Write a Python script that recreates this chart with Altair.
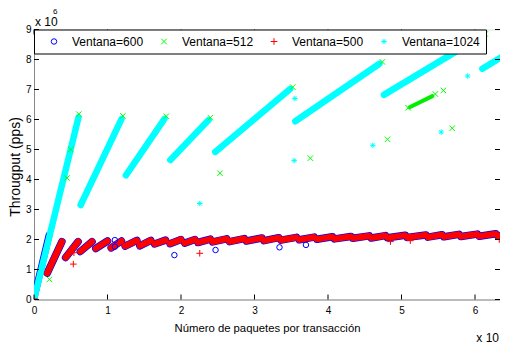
import altair as alt
import pandas as pd

FONT = "Liberation Sans Narrow, Arial Narrow, Liberation Sans, Arial, sans-serif"
FONT_REG = "Liberation Sans, Arial, sans-serif"

series_names = ["Ventana=600", "Ventana=512", "Ventana=500", "Ventana=1024"]
series_colors = ["#0000ff", "#00ff00", "#ff0000", "#00ffff"]
series_shapes = [
    "circle",
    "M-1,-1L1,1M-1,1L1,-1",
    "M-1.2,0L1.2,0M0,-1.2L0,1.2",
    "M-1,0L1,0M0,-1L0,1M-0.7,-0.7L0.7,0.7M-0.7,0.7L0.7,-0.7",
]

x_ticks = [0, 1, 2, 3, 4, 5, 6]
y_ticks = [0, 1, 2, 3, 4, 5, 6, 7, 8, 9]

# Sawtooth teeth shared by Ventana=500 (red) and Ventana=600 (blue)
tooth_x0 = [0.18, 0.43, 0.63, 0.84, 1.05, 1.24, 1.44, 1.64, 1.85, 2.05, 2.23, 2.43, 2.66, 2.89,
            3.13, 3.36, 3.61, 3.85, 4.09, 4.34, 4.59, 4.81, 5.08, 5.36, 5.58, 5.81, 6.06, 6.31]
tooth_y0 = [0.88, 1.40, 1.60, 1.70, 1.72, 1.78, 1.79, 1.85, 1.86, 1.88, 1.90, 1.92, 1.93, 1.95,
            1.96, 1.98, 1.99, 2.01, 2.02, 2.04, 2.05, 2.06, 2.07, 2.08, 2.09, 2.10, 2.11, 2.12]
tooth_x1 = [0.38, 0.60, 0.79, 1.00, 1.19, 1.40, 1.59, 1.79, 2.00, 2.19, 2.40, 2.62, 2.86, 3.10,
            3.33, 3.57, 3.81, 4.06, 4.31, 4.56, 4.78, 5.05, 5.33, 5.55, 5.78, 6.03, 6.28, 6.44]
tooth_y1 = [1.93, 1.93, 1.93, 1.95, 1.95, 1.97, 1.97, 1.98, 2.00, 2.00, 2.01, 2.02, 2.03, 2.05,
            2.06, 2.07, 2.08, 2.09, 2.10, 2.12, 2.13, 2.14, 2.15, 2.16, 2.17, 2.18, 2.19, 2.18]

# Initial blue ramp (Ventana=600)
blue_ramp_x = [0.0, 0.205]
blue_ramp_y = [0.05, 2.15]

# Ventana=1024 (cyan) ramps
cyan_x0 = [0.00, 0.635, 1.25, 1.855, 2.465, 3.555, 4.76, 6.10]
cyan_y0 = [0.00, 3.15, 4.14, 4.65, 4.92, 5.94, 6.82, 7.69]
cyan_x1 = [0.605, 1.19, 1.775, 2.375, 3.485, 4.70, 6.09, 6.44]
cyan_y1 = [6.07, 6.01, 6.02, 5.98, 7.02, 7.86, 8.78, 8.20]

# Ventana=512 (green) dense cluster
green_seg_x = [5.11, 5.42]
green_seg_y = [6.41, 6.78]

# Isolated points
blue_pts_x = [1.10, 1.10, 1.91, 2.47, 3.34, 3.70]
blue_pts_y = [1.98, 1.76, 1.48, 1.65, 1.74, 1.82]
green_pts_x = [0.21, 2.53, 3.76, 4.81, 5.69, 5.57, 5.09, 5.46, 0.61, 1.21, 1.80, 2.40, 3.52, 4.74, 6.14, 0.50, 0.45]
green_pts_y = [0.67, 4.21, 4.71, 5.34, 5.71, 6.97, 6.39, 6.85, 6.18, 6.12, 6.11, 6.06, 7.08, 7.92, 8.85, 5.00, 4.05]
red_pts_x = [0.0, 0.543, 0.535, 2.255, 4.85, 5.12, 6.33]
red_pts_y = [0.02, 1.56, 1.18, 1.54, 1.93, 1.96, 2.00]
cyan_pts_x = [2.255, 3.55, 3.54, 4.61, 5.90, 5.54, 6.39]
cyan_pts_y = [3.20, 6.70, 4.63, 5.14, 7.45, 5.58, 6.43]


def seg_frame(x0s, y0s, x1s, y1s, prefix):
    rows = []
    for i, (a, b, c, d) in enumerate(zip(x0s, y0s, x1s, y1s)):
        rows.append({"seg": f"{prefix}{i}", "o": 0, "x": a, "y": b})
        rows.append({"seg": f"{prefix}{i}", "o": 1, "x": c, "y": d})
    return pd.DataFrame(rows)


teeth_df = seg_frame(tooth_x0, tooth_y0, tooth_x1, tooth_y1, "t")
ramp_df = seg_frame(blue_ramp_x[:1], blue_ramp_y[:1], blue_ramp_x[1:], blue_ramp_y[1:], "r")
cyan_df = seg_frame(cyan_x0, cyan_y0, cyan_x1, cyan_y1, "c")
green_df = seg_frame(green_seg_x[:1], green_seg_y[:1], green_seg_x[1:], green_seg_y[1:], "g")

pts = []
for name, xs, ys in [
    (series_names[0], blue_pts_x, blue_pts_y),
    (series_names[1], green_pts_x, green_pts_y),
    (series_names[2], red_pts_x, red_pts_y),
    (series_names[3], cyan_pts_x, cyan_pts_y),
]:
    for a, b in zip(xs, ys):
        pts.append({"series": name, "x": a, "y": b})
pts_df = pd.DataFrame(pts)

W, H = 466, 270
XMAX = 6.34

xscale = alt.Scale(domain=[0, XMAX], nice=False, zero=False)
yscale = alt.Scale(domain=[0, 9], nice=False, zero=False)
xaxis = alt.Axis(values=x_ticks, ticks=False, grid=False, labelPadding=6, title="Número de paquetes por transacción",
                 titleY=29, titleBaseline="middle", labelFlush=False, titleFontWeight="normal",
                 titleFont=FONT, titleFontSize=11.3)
yaxis = alt.Axis(values=y_ticks, ticks=False, grid=False, labelPadding=3, title="Througput (pps)",
                 titleX=-19, titleY=137, titleAngle=270, titleBaseline="middle", titleAlign="center",
                 labelFlush=False, titleFontWeight="normal", titleFont=FONT_REG, titleFontSize=14)

X = lambda f="x": alt.X(f"{f}:Q", scale=xscale, axis=xaxis)
Y = lambda f="y": alt.Y(f"{f}:Q", scale=yscale, axis=yaxis)

def seg_layer(df, color, width):
    return alt.Chart(df).mark_line(strokeCap="round", strokeWidth=width, color=color, clip=True).encode(
        x=X(), y=Y(), detail="seg:N", order="o:Q")

blue_teeth = seg_layer(teeth_df, "#0000ff", 7.5)
blue_ramp = seg_layer(ramp_df, "#0000ff", 7)
green_line = seg_layer(green_df, "#00ee00", 4)
red_teeth = seg_layer(teeth_df, "#ff0000", 6.2)
cyan_lines = seg_layer(cyan_df, "#00ffff", 6.5)

legend = alt.Legend(title=None, orient="none", legendX=0, legendY=0, direction="horizontal",
                    columns=4, fillColor="white", strokeColor="#000", padding=6, symbolOffset=8,
                    labelOffset=12, columnPadding=6, labelFont=FONT, labelFontSize=12,
                    symbolSize=30, symbolStrokeWidth=1, labelColor="#000", cornerRadius=0)

points = alt.Chart(pts_df).mark_point(filled=False, size=30, strokeWidth=1, opacity=1, clip=True).encode(
    x=X(), y=Y(),
    color=alt.Color("series:N", scale=alt.Scale(domain=series_names, range=series_colors), legend=legend),
    shape=alt.Shape("series:N", scale=alt.Scale(domain=series_names, range=series_shapes), legend=legend),
)

xt = pd.DataFrame({"v": x_ticks})
yt = pd.DataFrame({"v": y_ticks})
xtick_b = alt.Chart(xt).mark_rule(color="#000").encode(x=X("v"), y=alt.value(H), y2=alt.value(H - 5))
xtick_t = alt.Chart(xt).mark_rule(color="#000").encode(x=X("v"), y=alt.value(0), y2=alt.value(5))
ytick_l = alt.Chart(yt).mark_rule(color="#000").encode(y=Y("v"), x=alt.value(0), x2=alt.value(5))
ytick_r = alt.Chart(yt).mark_rule(color="#000").encode(y=Y("v"), x=alt.value(W), x2=alt.value(W - 5))

def txt(s, x, y, size, align="left"):
    return alt.Chart(pd.DataFrame({"t": [s]})).mark_text(
        font=FONT, fontSize=size, align=align, baseline="middle", color="#000").encode(
        text="t:N", x=alt.value(x), y=alt.value(y))

exp_y = txt("x 10", 1, -7.5, 12)
exp_y6 = txt("6", 19, -17.5, 8)
exp_x = txt("x 10", W - 1, 308, 12, align="right")

chart = alt.layer(
    blue_teeth, blue_ramp, green_line, red_teeth, cyan_lines, points,
    xtick_b, xtick_t, ytick_l, ytick_r, exp_y, exp_y6, exp_x,
).properties(
    width=W, height=H,
    autosize=alt.AutoSizeParams(type="none"),
    padding={"left": 26, "top": 21.5, "right": 0, "bottom": 44},
).configure_view(
    stroke="#555", strokeWidth=1
).configure_axis(
    domainColor="#000", labelColor="#000", titleColor="#000", labelFont=FONT,
    labelFontSize=12, titleFontWeight="normal",
).configure(background="white")

chart.save("out.html", embed_options={"renderer": "svg", "actions": False})
